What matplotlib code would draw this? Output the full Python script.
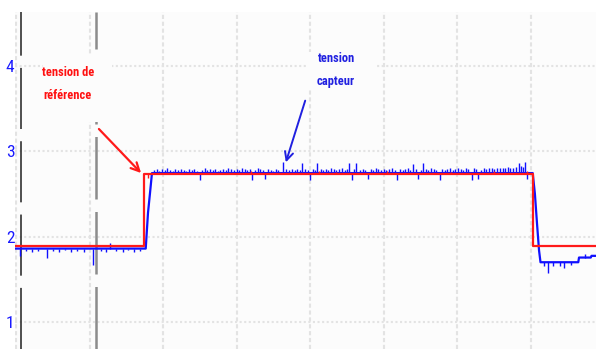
import matplotlib.pyplot as plt
from matplotlib.patches import Rectangle
import numpy as np

# time axis in screen divisions, voltage in V
ref_t = [0.0, 1.741, 1.741, 7.03, 7.03, 7.9]
ref_v = [1.885, 1.885, 2.73, 2.73, 1.885, 1.885]

# sensor voltage, slow shape
sens_t = [0.0, 1.765, 1.796, 1.823, 1.850, 7.03, 7.06, 7.088, 7.116, 7.136,
          7.65, 7.66, 7.82, 7.83, 7.9]
sens_v = [1.86, 1.86, 2.28, 2.51, 2.745, 2.745, 2.50, 2.16, 1.84, 1.70,
          1.70, 1.755, 1.755, 1.775, 1.775]

# sensor noise on the high level (peaks above)
up_t = [1.88, 1.92, 1.95, 1.99, 2.03, 2.06, 2.10, 2.13, 2.17, 2.21,
        2.24, 2.28, 2.31, 2.35, 2.39, 2.42, 2.46, 2.53, 2.57, 2.60,
        2.64, 2.68, 2.71, 2.75, 2.78, 2.82, 2.86, 2.89, 2.93, 2.96,
        3.00, 3.04, 3.07, 3.11, 3.14, 3.18, 3.25, 3.29, 3.32, 3.36,
        3.43, 3.47, 3.50, 3.54, 3.57, 3.63, 3.68, 3.72, 3.75, 3.79,
        3.82, 3.86, 3.89, 3.93, 3.97, 4.04, 4.07, 4.10, 4.15, 4.18,
        4.22, 4.25, 4.29, 4.33, 4.36, 4.40, 4.43, 4.47, 4.50, 4.53,
        4.60, 4.63, 4.68, 4.72, 4.75, 4.83, 4.86, 4.90, 4.93, 4.97,
        5.01, 5.04, 5.08, 5.11, 5.15, 5.22, 5.26, 5.29, 5.33, 5.36,
        5.40, 5.44, 5.51, 5.54, 5.58, 5.61, 5.65, 5.69, 5.72, 5.80,
        5.83, 5.87, 5.90, 5.94, 5.97, 6.01, 6.05, 6.08, 6.12, 6.15,
        6.23, 6.26, 6.33, 6.37, 6.40, 6.44, 6.47, 6.51, 6.55, 6.58,
        6.62, 6.65, 6.69, 6.72, 6.76, 6.80, 6.84, 6.87, 6.90, 6.93]
up_v = [2.78, 2.79, 2.77, 2.79, 2.78, 2.80, 2.78, 2.77, 2.79, 2.78,
        2.79, 2.78, 2.77, 2.79, 2.78, 2.79, 2.77, 2.78, 2.80, 2.78,
        2.79, 2.78, 2.79, 2.77, 2.78, 2.79, 2.78, 2.80, 2.79, 2.78,
        2.79, 2.78, 2.80, 2.79, 2.78, 2.79, 2.78, 2.80, 2.79, 2.78,
        2.79, 2.78, 2.77, 2.79, 2.78, 2.87, 2.79, 2.78, 2.79, 2.78,
        2.79, 2.78, 2.86, 2.79, 2.78, 2.79, 2.78, 2.86, 2.79, 2.78,
        2.79, 2.78, 2.80, 2.79, 2.78, 2.79, 2.80, 2.78, 2.79, 2.86,
        2.79, 2.86, 2.78, 2.79, 2.78, 2.79, 2.78, 2.80, 2.79, 2.78,
        2.79, 2.78, 2.79, 2.80, 2.78, 2.79, 2.78, 2.79, 2.80, 2.78,
        2.85, 2.79, 2.78, 2.86, 2.79, 2.78, 2.80, 2.79, 2.78, 2.79,
        2.78, 2.79, 2.80, 2.78, 2.79, 2.80, 2.79, 2.78, 2.80, 2.79,
        2.80, 2.79, 2.78, 2.80, 2.79, 2.81, 2.80, 2.79, 2.81, 2.80,
        2.81, 2.80, 2.82, 2.81, 2.80, 2.82, 2.86, 2.83, 2.82, 2.87]

# dips below the trace
down_t = [0.05, 0.14, 0.22, 0.30, 0.42, 0.50, 0.58, 0.66, 0.75, 0.83,
          0.92, 1.05, 1.15, 1.22, 1.36, 1.45, 1.53, 1.61, 1.69,
          2.50, 3.21, 3.39, 4.00, 4.57, 4.79, 5.18, 5.47, 5.77, 6.20,
          6.29, 6.95, 7.18, 7.24, 7.31, 7.40, 7.46, 7.55]
down_v = [1.77, 1.83, 1.82, 1.83, 1.75, 1.83, 1.82, 1.84, 1.82, 1.83,
          1.82, 1.67, 1.83, 1.82, 1.83, 1.82, 1.84, 1.82, 1.83,
          2.66, 2.66, 2.67, 2.66, 2.66, 2.68, 2.66, 2.67, 2.66, 2.66,
          2.67, 2.67, 1.66, 1.57, 1.66, 1.66, 1.63, 1.67]

# small glitches above the low levels
low_up_t = [1.28, 7.74, 7.86]
low_up_v = [1.93, 1.80, 1.79]

# reference glitches
ref_spike_t = [1.80, 3.20, 4.12, 4.35, 5.05, 5.92, 6.50, 6.95]
ref_spike_v = [2.69, 2.77, 2.77, 2.76, 2.77, 2.76, 2.77, 2.77]

cursor_t = [0.07, 1.09]
y_ticks = [1, 2, 3, 4]
x_divs = list(range(8))

narrow = ['Liberation Sans Narrow', 'DejaVu Sans Condensed',
          'Roboto Condensed', 'DejaVu Sans']

fig = plt.figure(figsize=(5.96, 3.49), dpi=100)
ax = fig.add_axes([15 / 596, 0, 581 / 596, 337 / 349])
ax.set_facecolor('#fcfcfc')
ax.set_xlim(-1 / 73.5, 580 / 73.5)
ax.set_ylim(0.683, 4.633)

ax.set_xticks(x_divs)
ax.set_yticks(y_ticks)
ax.set_xticklabels([])
ax.set_yticklabels([str(v) for v in y_ticks], color='#1a1aff', fontsize=12.5,
                   family=narrow)
ax.tick_params(length=0, pad=0.5)
ax.xaxis.grid(True, color='#e3e3e3', linestyle=(0, (2, 1.3)), lw=1.5)
ax.yaxis.grid(True, color='#e3e3e3', linestyle=(0, (1, 1.2)), lw=1.5)
for s in ax.spines.values():
    s.set_visible(False)

# cursors
ax.axvline(cursor_t[0], color='#202020', lw=1.1, dashes=(40, 8), zorder=2)
ax.axvline(cursor_t[1], color='#8c8c8c', lw=1.8, dashes=(25, 5), zorder=2)

# label boxes hide the grid and cursor behind them
ax.add_patch(Rectangle((0.367, 3.343), 0.94, 0.79, facecolor='#fcfcfc',
                       edgecolor='none', zorder=2.5))
ax.add_patch(Rectangle((3.96, 3.72), 0.92, 0.45, facecolor='#fcfcfc',
                       edgecolor='none', zorder=2.5))

# traces
blue = '#1010ff'
ax.plot(sens_t, sens_v, color=blue, lw=1.6, zorder=3)
ax.vlines(up_t, np.interp(up_t, sens_t, sens_v), up_v, color=blue,
          lw=1.0, zorder=3)
ax.vlines(down_t, np.interp(down_t, sens_t, sens_v), down_v, color=blue,
          lw=1.0, zorder=3)
ax.vlines(low_up_t, np.interp(low_up_t, sens_t, sens_v), low_up_v,
          color=blue, lw=1.0, zorder=3)
ax.plot(ref_t, ref_v, color='#ff1a1a', lw=1.6, zorder=4)
ax.vlines(ref_spike_t, np.interp(ref_spike_t, ref_t, ref_v), ref_spike_v,
          color='#ff1a1a', lw=1.0, zorder=4)

ax.text(0.707, 3.79, 'tension de\nréférence', color='#ff1010', fontsize=9,
        fontweight='bold', family=narrow, ha='center', va='center',
        linespacing=2.0, zorder=5)
ax.annotate('', xy=(1.728, 2.722), xytext=(1.102, 3.285),
            arrowprops=dict(arrowstyle='->,head_length=0.6,head_width=0.3',
                            color='#ff1a1a', lw=1.6), zorder=5)

ax.text(4.354, 3.953, 'tension\ncapteur', color='#2020e0', fontsize=9,
        fontweight='bold', family=narrow, ha='center', va='center',
        linespacing=2.0, zorder=5)
ax.annotate('', xy=(3.66, 2.84), xytext=(3.946, 3.625),
            arrowprops=dict(arrowstyle='->,head_length=0.6,head_width=0.3',
                            color='#2020e0', lw=1.4), zorder=5)

fig.savefig('out.png', dpi=100)
